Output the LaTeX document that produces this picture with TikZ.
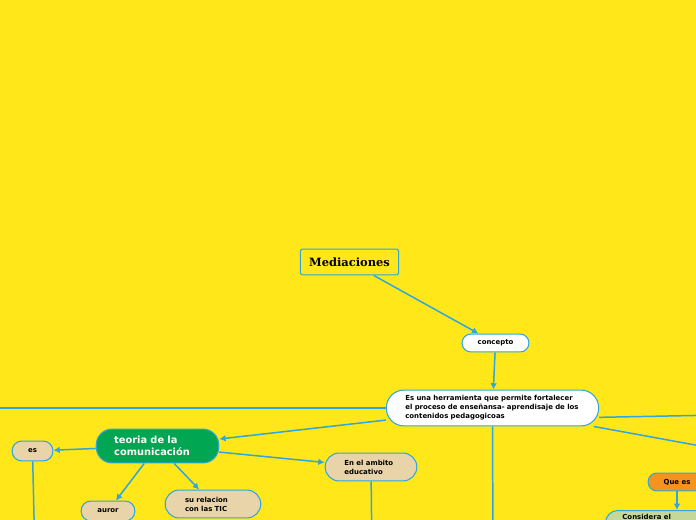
\documentclass[tikz,border=0pt]{standalone}
\usepackage{fontspec}
\setmainfont{DejaVu Sans}
\newfontfamily\titlefont{DejaVu Serif}
\usetikzlibrary{arrows.meta}
\definecolor{bgyellow}{HTML}{FFE71A}
\definecolor{linkblue}{HTML}{2FA6DE}
\definecolor{teoriagreen}{HTML}{00A651}
\definecolor{tan}{HTML}{E8D4A8}
\definecolor{queorange}{HTML}{F6921E}
\definecolor{lightgreen}{HTML}{C5D89A}
\begin{document}
\begin{tikzpicture}[x=0.02cm, y=-0.02cm,
  box/.style={draw=linkblue, line width=0.6pt, align=left, inner sep=0pt,
    font=\bfseries\fontsize{3.95}{5.1}\selectfont},
  link/.style={draw=linkblue, line width=0.85pt, -{Latex[length=3.6pt,width=3.8pt]}},
  plain/.style={draw=linkblue, line width=0.85pt}]
  % page
  \useasboundingbox (0,0) rectangle (696,520);
  \fill[bgyellow] (0,0) rectangle (696,520);
  \clip (0,0) rectangle (696,520);
  % nodes
  \node[box, fill=bgyellow, rounded corners=1pt, minimum width=56pt, minimum height=14.7pt,
    font=\titlefont\bfseries\fontsize{6.5}{7}\selectfont] (med) at (349.5,262) {Mediacioneѕ};
  \node[box, fill=white, rounded corners=5pt, minimum width=38pt, minimum height=10.2pt] (concepto) at (495.5,343) {concepto};
  \node[box, fill=white, rounded corners=10pt, inner xsep=10.8pt, text width=99.2pt, minimum height=20.4pt] (def) at (492.5,408)
    {Es una herramienta que permite fortalecer\\el proceso de enseñansa- aprendisaje de los\\contenidos pedagogicoas};
  \node[box, fill=teoriagreen, text=white, rounded corners=9pt, inner xsep=10.2pt, text width=49.3pt, minimum height=19.3pt,
    font=\bfseries\fontsize{5.6}{7.2}\selectfont] (teoria) at (157.5,446) {teoria de la\\comunicación};
  \node[box, fill=tan, rounded corners=5.5pt, minimum width=23.2pt, minimum height=11.3pt] (es) at (32.5,451) {es};
  \node[box, fill=tan, rounded corners=5.5pt, minimum width=30.6pt, minimum height=11.3pt] (auror) at (108,511) {auror};
  \node[box, fill=tan, rounded corners=8pt, inner xsep=11.3pt, text width=31.8pt, minimum height=15.9pt] (tic) at (213,504) {su relacion\\con las TIC};
  \node[box, fill=tan, rounded corners=8pt, inner xsep=11pt, text width=30.2pt, minimum height=15.9pt] (ambito) at (371,467) {En el ambito\\educativo};
  \node[box, fill=queorange, rounded corners=5pt, minimum width=32.9pt, minimum height=10.2pt] (quees) at (677,482) {Que es};
  \node[box, fill=lightgreen, rounded corners=7pt, anchor=north west, inner xsep=9.6pt, inner ysep=2.3pt,
    text depth=16pt, text width=80pt] (considera) at (605,510) {Considera el};
  % free ends
  \coordinate (endW) at (-20,408);
  \coordinate (endE) at (720,415);
  \coordinate (endSE) at (720,449.5);
  \coordinate (endS) at (493,560);
  \coordinate (esS) at (35,560);
  \coordinate (ambitoS) at (372,560);
  % connectors
  \draw[link] (med) -- (concepto);
  \draw[link] (concepto) -- (def);
  \draw[plain] (def) -- (endW);
  \draw[link] (def) -- (teoria);
  \draw[plain] (def.-5) -- (endE);
  \draw[plain] (def) -- (endSE);
  \draw[plain] (def) -- (endS);
  \draw[link] (teoria) -- (es);
  \draw[link] (teoria) -- (auror);
  \draw[link] (teoria) -- (tic);
  \draw[link] (teoria) -- (ambito);
  \draw[plain] (es) -- (esS);
  \draw[plain] (ambito) -- (ambitoS);
  \draw[link] (quees) -- (quees |- considera.north);
\end{tikzpicture}
\end{document}
